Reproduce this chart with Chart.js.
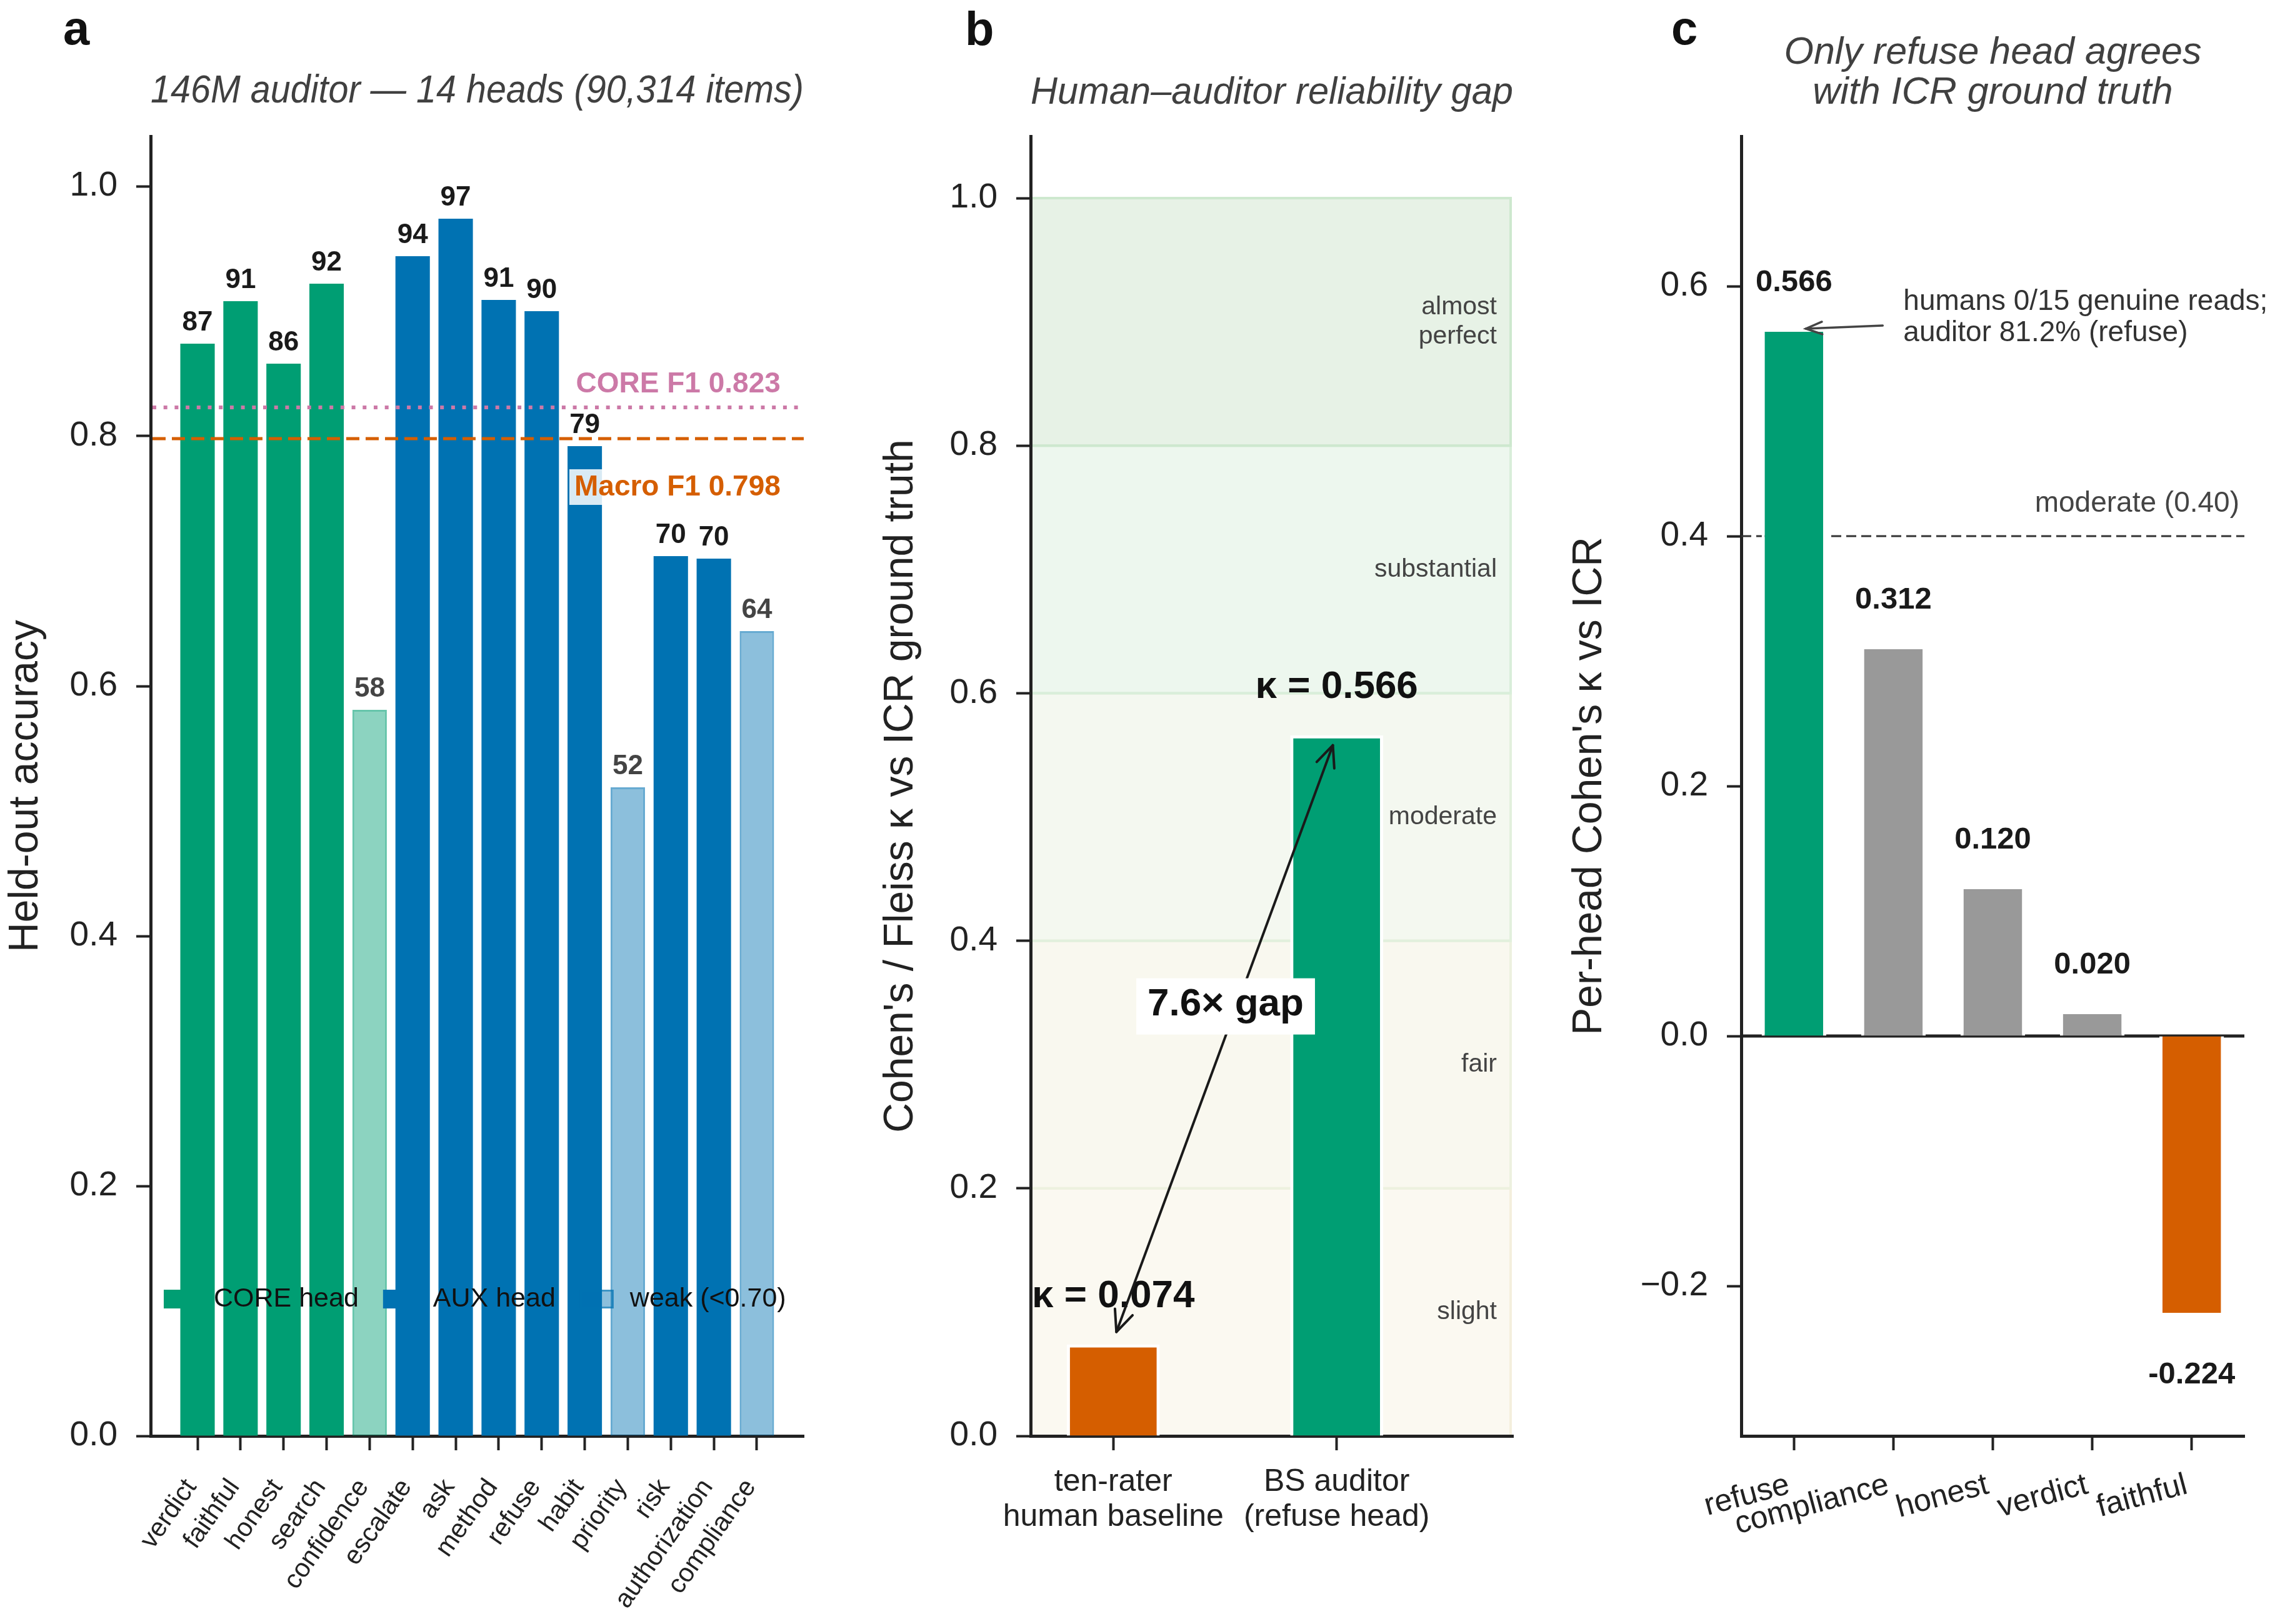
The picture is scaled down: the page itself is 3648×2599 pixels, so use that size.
<!DOCTYPE html>
<html>
<head>
<meta charset="utf-8">
<script src="https://cdn.jsdelivr.net/npm/chart.js@4.4.1/dist/chart.umd.min.js"></script>
<style>
html, body { margin: 0; padding: 0; background: #ffffff; }
#wrap { position: relative; width: 3648px; height: 2599px; background: #ffffff; overflow: hidden; }
#wrap canvas { position: absolute; left: 0; top: 0; }
</style>
</head>
<body>
<div id="wrap">
  <canvas id="chartA" width="3648" height="2599"></canvas>
  <canvas id="chartB" width="3648" height="2599"></canvas>
  <canvas id="chartC" width="3648" height="2599"></canvas>
</div>
<script>
// ---------------- data ----------------
// Panel a: held-out accuracy of the 14 auditor heads
const headNames = ['verdict', 'faithful', 'honest', 'search', 'confidence', 'escalate', 'ask',
  'method', 'refuse', 'habit', 'priority', 'risk', 'authorization', 'compliance'];
const headGroups = ['CORE', 'CORE', 'CORE', 'CORE', 'CORE', 'AUX', 'AUX',
  'AUX', 'AUX', 'AUX', 'AUX', 'AUX', 'AUX', 'AUX'];
const heldOutAccuracy = [0.874, 0.908, 0.858, 0.922, 0.581, 0.944, 0.974,
  0.909, 0.900, 0.792, 0.519, 0.704, 0.702, 0.644];
const accuracyTicks = [0.0, 0.2, 0.4, 0.6, 0.8, 1.0];
const weakCutoff = 0.70;
const coreF1 = 0.823;
const macroF1 = 0.798;

// Panel b: human vs auditor reliability
const raterGroups = [['ten-rater', 'human baseline'], ['BS auditor', '(refuse head)']];
const raterKappa = [0.074, 0.566];
const kappaTicks = [0.0, 0.2, 0.4, 0.6, 0.8, 1.0];
const bandEdges = [0.0, 0.2, 0.4, 0.6, 0.8, 1.0];
const bandNames = [['slight'], ['fair'], ['moderate'], ['substantial'], ['almost', 'perfect']];

// Panel c: per-head kappa vs ICR
const perHeadNames = ['refuse', 'compliance', 'honest', 'verdict', 'faithful'];
const perHeadKappa = [0.566, 0.312, 0.120, 0.020, -0.224];
const perHeadTicks = [-0.2, 0.0, 0.2, 0.4, 0.6];
const moderateKappa = 0.40;

// ---------------- styles ----------------
const FONT = "'Liberation Sans', Arial, Helvetica, sans-serif";
Chart.defaults.font.family = FONT;
Chart.defaults.color = '#222222';
const C = {
  core: '#009E73', aux: '#0072B2', orange: '#D55E00', pink: '#CC79A7',
  gray: '#999999', ink: '#222222', sub: '#404040'
};
const bandFill = ['#FBF9F1', '#F9F8EF', '#F4F8F0', '#EDF7EE', '#E7F2E6'];
const bandEdge = ['#F4EFDD', '#EDF1DF', '#E2F0DD', '#D9EEDA', '#CDE8CE'];

function rgba(hex, a) {
  const n = parseInt(hex.slice(1), 16);
  return `rgba(${(n >> 16) & 255},${(n >> 8) & 255},${n & 255},${a})`;
}
function drawText(ctx, str, x, y, o) {
  ctx.save();
  ctx.font = `${o.style || 'normal'} ${o.weight || 'normal'} ${o.size}px ${FONT}`;
  ctx.fillStyle = o.color || C.ink;
  ctx.textAlign = o.align || 'left';
  ctx.textBaseline = o.baseline || 'alphabetic';
  ctx.fillText(str, x, y);
  ctx.restore();
}
function textWidth(ctx, str, size, weight) {
  ctx.save();
  ctx.font = `normal ${weight || 'normal'} ${size}px ${FONT}`;
  const w = ctx.measureText(str).width;
  ctx.restore();
  return w;
}
function hLine(ctx, x0, x1, y, color, width, dash) {
  ctx.save();
  ctx.strokeStyle = color; ctx.lineWidth = width; ctx.setLineDash(dash || []);
  ctx.lineCap = 'butt';
  ctx.beginPath(); ctx.moveTo(x0, y); ctx.lineTo(x1, y); ctx.stroke();
  ctx.restore();
}
function arrowHead(ctx, tipX, tipY, fromX, fromY, len, halfW) {
  const ang = Math.atan2(tipY - fromY, tipX - fromX);
  const bx = tipX - len * Math.cos(ang), by = tipY - len * Math.sin(ang);
  const px = -Math.sin(ang), py = Math.cos(ang);
  ctx.beginPath();
  ctx.moveTo(bx + px * halfW, by + py * halfW);
  ctx.lineTo(tipX, tipY);
  ctx.lineTo(bx - px * halfW, by - py * halfW);
  ctx.stroke();
}
function panelLetter(ctx, letter, x, y) {
  drawText(ctx, letter, x, y, {size: 76, weight: 'bold', color: '#111111'});
}
const yTickFmt = v => (v < 0 ? '\u2212' + Math.abs(v).toFixed(1) : v.toFixed(1));
function axisGrid() {
  return {drawOnChartArea: false, drawTicks: true, tickLength: 23, tickWidth: 4, tickColor: C.ink, offset: false};
}
function axisBorder() {
  return {display: true, color: C.ink, width: 5};
}

// ---------------- panel a ----------------
const isWeak = heldOutAccuracy.map(v => v < weakCutoff);
const groupColor = headGroups.map(g => (g === 'CORE' ? C.core : C.aux));

const panelAPlugin = {
  id: 'panelA',
  afterDatasetsDraw(chart) {
    const {ctx, chartArea: ca, scales: {x, y}} = chart;
    // reference lines
    hLine(ctx, ca.left + 3, ca.right, y.getPixelForValue(coreF1), C.pink, 6, [6, 11.7]);
    hLine(ctx, ca.left + 3, ca.right, y.getPixelForValue(macroF1), C.orange, 5, [21, 10]);
    // value labels
    heldOutAccuracy.forEach((v, i) => {
      drawText(ctx, String(Math.round(v * 100)), x.getPixelForValue(i), y.getPixelForValue(v + 0.0105),
        {size: 44, weight: 'bold', align: 'center', color: isWeak[i] ? '#444444' : '#1a1a1a'});
    });
    // reference line labels
    const rx = x.getPixelForValue(13.55);
    drawText(ctx, 'CORE F1 ' + coreF1.toFixed(3), rx, y.getPixelForValue(coreF1) - 24,
      {size: 46, weight: 'bold', align: 'right', color: C.pink});
    const macroLabel = 'Macro F1 ' + macroF1.toFixed(3);
    const mw = textWidth(ctx, macroLabel, 46, 'bold');
    const mb = y.getPixelForValue(macroF1) + 91;
    ctx.save();
    ctx.fillStyle = 'rgba(255,255,255,0.85)';
    ctx.fillRect(rx - mw - 8, mb - 42, mw + 16, 57);
    ctx.restore();
    drawText(ctx, macroLabel, rx, mb, {size: 46, weight: 'bold', align: 'right', color: C.orange});
    // legend
    const items = [
      {label: 'CORE head', fill: C.core},
      {label: 'AUX head', fill: C.aux},
      {label: `weak (<${weakCutoff.toFixed(2)})`, fill: rgba(C.aux, 0.45), edge: rgba(C.aux, 0.55)}
    ];
    let lx = ca.left + 21;
    const ly = ca.bottom - 219;
    items.forEach(it => {
      ctx.save();
      ctx.fillStyle = it.fill;
      ctx.fillRect(lx, ly - 15, 54, 30);
      if (it.edge) { ctx.strokeStyle = it.edge; ctx.lineWidth = 3; ctx.strokeRect(lx + 1.5, ly - 13.5, 51, 27); }
      ctx.restore();
      drawText(ctx, it.label, lx + 80, ly, {size: 43, baseline: 'middle', color: '#111111'});
      lx += 80 + textWidth(ctx, it.label, 43) + 39;
    });
    panelLetter(ctx, 'a', 101, 71);
  }
};

const nA = headNames.length;
new Chart(document.getElementById('chartA'), {
  type: 'bar',
  data: {
    datasets: [{
      data: heldOutAccuracy.map((v, i) => ({x: i, y: v})),
      backgroundColor: groupColor.map((c, i) => (isWeak[i] ? rgba(c, 0.45) : c)),
      borderColor: groupColor.map((c, i) => (isWeak[i] ? rgba(c, 0.6) : c)),
      borderWidth: isWeak.map(w => (w ? 3 : 0)),
      barPercentage: 0.8,
      categoryPercentage: 1.0
    }]
  },
  options: {
    responsive: false, animation: false, devicePixelRatio: 1,
    layout: {padding: {left: 0, right: 2362, top: 0, bottom: 0}},
    plugins: {
      legend: {display: false}, tooltip: {enabled: false},
      title: {
        display: true, fullSize: false, text: '146M auditor \u2014 14 heads (90,314 items)',
        color: C.sub, font: {size: 63, style: 'italic', weight: 'normal', lineHeight: 1.2},
        padding: {top: 109, bottom: 33.4}
      }
    },
    scales: {
      x: {
        type: 'linear', offset: false,
        min: -0.4 - 0.05 * (nA - 0.2), max: nA - 0.6 + 0.05 * (nA - 0.2),
        afterBuildTicks: s => { s.ticks = headNames.map((_, i) => ({value: i})); },
        ticks: {
          callback: v => headNames[v], autoSkip: false, minRotation: 55, maxRotation: 55,
          font: {size: 42}, color: C.ink, padding: 37, labelOffset: -10
        },
        grid: axisGrid(), border: axisBorder(),
        afterFit: s => { s.height = 301; }
      },
      y: {
        min: 0, max: 1.04,
        afterBuildTicks: s => { s.ticks = accuracyTicks.map(v => ({value: v})); },
        ticks: {callback: yTickFmt, font: {size: 55}, color: C.ink, padding: 30},
        grid: axisGrid(), border: axisBorder(),
        title: {display: true, text: 'Held-out accuracy', font: {size: 66}, color: C.ink, padding: {top: 2.4, bottom: 0}},
        afterFit: s => { s.width = 241; }
      }
    }
  },
  plugins: [panelAPlugin]
});

// ---------------- panel b ----------------
const panelBPlugin = {
  id: 'panelB',
  beforeDraw(chart) {
    const {ctx, chartArea: ca, scales: {y}} = chart;
    ctx.save();
    for (let i = 0; i < bandNames.length; i++) {
      const top = y.getPixelForValue(bandEdges[i + 1]);
      const bot = y.getPixelForValue(bandEdges[i]);
      ctx.fillStyle = bandFill[i];
      ctx.fillRect(ca.left, top, ca.right - 2 - ca.left, bot - top);
    }
    for (let i = 0; i < bandNames.length; i++) {
      const top = y.getPixelForValue(bandEdges[i + 1]);
      const bot = y.getPixelForValue(bandEdges[i]);
      ctx.strokeStyle = bandEdge[i]; ctx.lineWidth = 4;
      ctx.strokeRect(ca.left, top, ca.right - 4 - ca.left, bot - top);
    }
    ctx.restore();
    for (let i = 0; i < bandNames.length; i++) {
      const mid = y.getPixelForValue((bandEdges[i] + bandEdges[i + 1]) / 2);
      const lines = bandNames[i];
      lines.forEach((s, k) => {
        const yy = mid + (k - (lines.length - 1) / 2) * 47;
        drawText(ctx, s, ca.right - 26, yy, {size: 41, align: 'right', baseline: 'middle', color: '#444444'});
      });
    }
  },
  afterDatasetsDraw(chart) {
    const {ctx, scales: {x, y}} = chart;
    raterKappa.forEach((v, i) => {
      drawText(ctx, '\u03BA = ' + v.toFixed(3), x.getPixelForValue(i), y.getPixelForValue(v + 0.03),
        {size: 62, weight: 'bold', align: 'center', color: '#111111'});
    });
    // double-headed arrow between the two bars
    const x0 = x.getPixelForValue(0.014), y0 = y.getPixelForValue(0.084);
    const x1 = x.getPixelForValue(0.983), y1 = y.getPixelForValue(0.558);
    ctx.save();
    ctx.strokeStyle = '#1a1a1a'; ctx.lineWidth = 4; ctx.lineCap = 'round'; ctx.lineJoin = 'round';
    ctx.beginPath(); ctx.moveTo(x0, y0); ctx.lineTo(x1, y1); ctx.stroke();
    arrowHead(ctx, x1, y1, x0, y0, 34, 15);
    arrowHead(ctx, x0, y0, x1, y1, 34, 15);
    ctx.restore();
    // ratio label in white box
    const gapLabel = (raterKappa[1] / raterKappa[0]).toFixed(1) + '\u00D7 gap';
    const gw = textWidth(ctx, gapLabel, 62, 'bold');
    const cx = x.getPixelForValue(0.503), cy = y.getPixelForValue(0.347);
    ctx.save();
    ctx.fillStyle = '#ffffff';
    ctx.fillRect(cx - gw / 2 - 18, cy - 45, gw + 36, 90);
    ctx.restore();
    drawText(ctx, gapLabel, cx, cy + 14, {size: 62, weight: 'bold', align: 'center', color: '#111111'});
    panelLetter(ctx, 'b', 1544, 72);
  }
};

new Chart(document.getElementById('chartB'), {
  type: 'bar',
  data: {
    datasets: [{
      data: raterKappa.map((v, i) => ({x: i, y: v})),
      backgroundColor: [C.orange, C.core],
      borderColor: '#ffffff', borderWidth: 5,
      barPercentage: 0.416, categoryPercentage: 1.0
    }]
  },
  options: {
    responsive: false, animation: false, devicePixelRatio: 1,
    layout: {padding: {left: 1400, right: 1227, top: 0, bottom: 0}},
    plugins: {
      legend: {display: false}, tooltip: {enabled: false},
      title: {
        display: true, fullSize: false, text: 'Human\u2013auditor reliability gap',
        color: C.sub, font: {size: 61, style: 'italic', weight: 'normal', lineHeight: 1.2},
        padding: {top: 112.4, bottom: 32.4}
      }
    },
    scales: {
      x: {
        type: 'linear', offset: false, min: -0.37, max: 1.79,
        afterBuildTicks: s => { s.ticks = raterGroups.map((_, i) => ({value: i})); },
        ticks: {callback: v => raterGroups[v], autoSkip: false, maxRotation: 0, minRotation: 0,
          font: {size: 50, lineHeight: 1.12}, color: C.ink, padding: 23},
        grid: axisGrid(), border: axisBorder(),
        afterFit: s => { s.height = 301; }
      },
      y: {
        min: 0, max: 1.05,
        afterBuildTicks: s => { s.ticks = kappaTicks.map(v => ({value: v})); },
        ticks: {callback: yTickFmt, font: {size: 55}, color: C.ink, padding: 30},
        grid: axisGrid(), border: axisBorder(),
        title: {display: true, text: "Cohen's / Fleiss \u03BA vs ICR ground truth", font: {size: 66}, color: C.ink, padding: {top: 2.4, bottom: 0}},
        afterFit: s => { s.width = 249; }
      }
    }
  },
  plugins: [panelBPlugin]
});

// ---------------- panel c ----------------
const perHeadColor = perHeadKappa.map((v, i) => (i === 0 ? C.core : v < 0 ? C.orange : C.gray));
const panelCPlugin = {
  id: 'panelC',
  beforeDatasetsDraw(chart) {
    const {ctx, chartArea: ca, scales: {y}} = chart;
    hLine(ctx, ca.left, ca.right, y.getPixelForValue(0), C.ink, 5);
    hLine(ctx, ca.left, ca.right, y.getPixelForValue(moderateKappa), '#333333', 3, [16, 8]);
  },
  afterDatasetsDraw(chart) {
    const {ctx, chartArea: ca, scales: {x, y}} = chart;
    perHeadKappa.forEach((v, i) => {
      const yy = v >= 0 ? y.getPixelForValue(v + 0.03) : y.getPixelForValue(v - 0.054);
      drawText(ctx, v.toFixed(3), x.getPixelForValue(i), yy, {size: 49, weight: 'bold', align: 'center', color: '#1a1a1a'});
    });
    drawText(ctx, `moderate (${moderateKappa.toFixed(2)})`, ca.right - 8, y.getPixelForValue(moderateKappa) - 39,
      {size: 46, align: 'right', color: '#444444'});
    // annotation on refuse head
    const tx = x.getPixelForValue(1.10), ty = y.getPixelForValue(0.581);
    drawText(ctx, 'humans 0/15 genuine reads;', tx, ty, {size: 46, color: '#333333'});
    drawText(ctx, 'auditor 81.2% (refuse)', tx, ty + 50, {size: 46, color: '#333333'});
    const ax0 = tx - 33, ay0 = ty + 25;
    const ax1 = x.getPixelForValue(0.12), ay1 = y.getPixelForValue(perHeadKappa[0]);
    ctx.save();
    ctx.strokeStyle = '#444444'; ctx.lineWidth = 3.5; ctx.lineCap = 'round';
    ctx.beginPath(); ctx.moveTo(ax0, ay0); ctx.lineTo(ax1, ay1); ctx.stroke();
    arrowHead(ctx, ax1, ay1, ax0, ay0, 26, 10);
    ctx.restore();
    panelLetter(ctx, 'c', 2674, 71);
  }
};

const nC = perHeadNames.length;
new Chart(document.getElementById('chartC'), {
  type: 'bar',
  data: {
    datasets: [{
      data: perHeadKappa.map((v, i) => ({x: i, y: v})),
      backgroundColor: perHeadColor,
      borderColor: '#ffffff', borderWidth: 5,
      barPercentage: 0.65, categoryPercentage: 1.0
    }]
  },
  options: {
    responsive: false, animation: false, devicePixelRatio: 1,
    layout: {padding: {left: 2502, right: 57, top: 0, bottom: 0}},
    plugins: {
      legend: {display: false}, tooltip: {enabled: false},
      title: {
        display: true, fullSize: false, text: ['Only refuse head agrees', 'with ICR ground truth'],
        color: C.sub, font: {size: 61, style: 'italic', weight: 'normal', lineHeight: 64 / 61},
        padding: {top: 53, bottom: 37}
      }
    },
    scales: {
      x: {
        type: 'linear', offset: false,
        min: -0.3 - 0.05 * (nC - 0.4), max: nC - 0.7 + 0.05 * (nC - 0.4),
        afterBuildTicks: s => { s.ticks = perHeadNames.map((_, i) => ({value: i})); },
        ticks: {callback: v => perHeadNames[v], autoSkip: false, minRotation: 15, maxRotation: 15,
          font: {size: 50}, color: C.ink, padding: 26, labelOffset: -8},
        grid: axisGrid(), border: axisBorder(),
        afterFit: s => { s.height = 301; }
      },
      y: {
        min: -0.32, max: 0.72,
        afterBuildTicks: s => { s.ticks = perHeadTicks.map(v => ({value: v})); },
        ticks: {callback: yTickFmt, font: {size: 55}, color: C.ink, padding: 30},
        grid: axisGrid(), border: axisBorder(),
        title: {display: true, text: "Per-head Cohen's \u03BA vs ICR", font: {size: 66}, color: C.ink, padding: {top: 2.4, bottom: 0}},
        afterFit: s => { s.width = 284; }
      }
    }
  },
  plugins: [panelCPlugin]
});
</script>
</body>
</html>
